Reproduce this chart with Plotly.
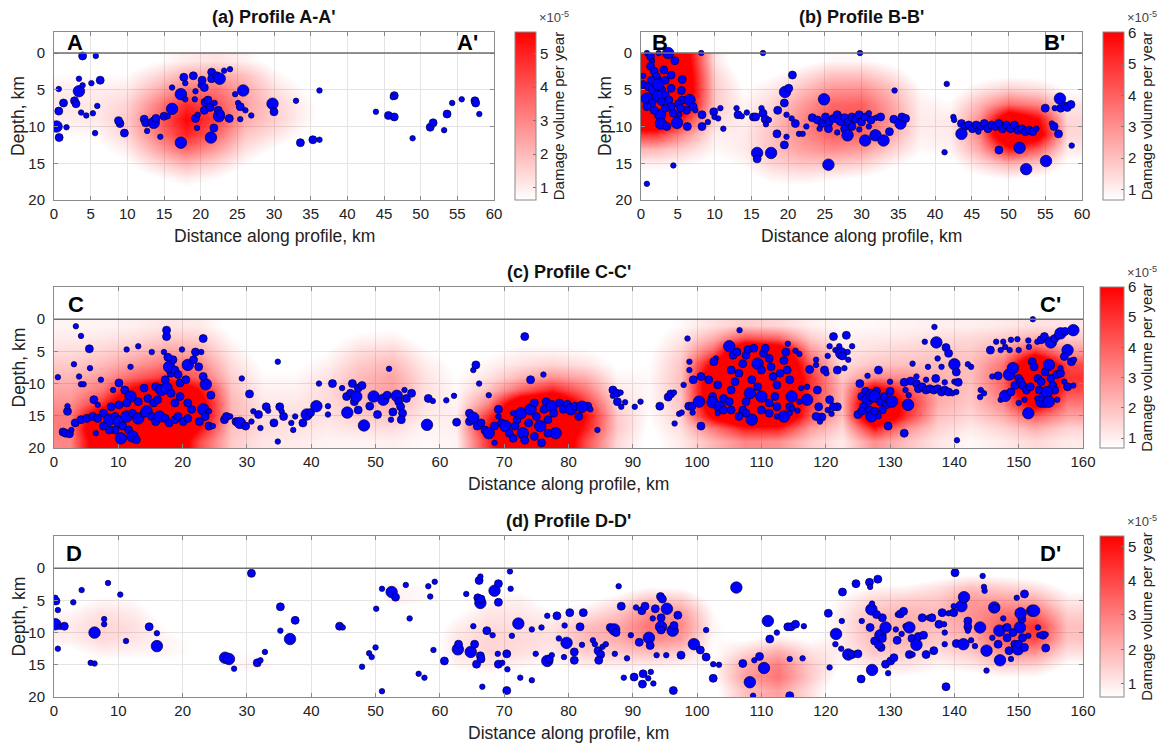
import plotly.graph_objects as go

FONT = "Liberation Sans, Arial, Helvetica, sans-serif"
PAGE_W, PAGE_H = 1172, 744
BODY_MARGIN = 8                      # default <body> margin of the html page
FIG_W, FIG_H = PAGE_W - BODY_MARGIN, PAGE_H - BODY_MARGIN

# ------------------------------------------------------------------ data
# earthquake hypocentres: (distance along profile [km], depth [km], size class 1-3)
A_EVENTS = [
    (3.9, 0.4, 2), (5.7, 0.4, 1), (0.65, 4.9, 1), (3.4, 3.5, 1), (6.3, 3.7, 2), (3.4, 5.2, 3), (5.1, 4.1, 1),
    (3.9, 4.4, 1), (1.3, 6.8, 2), (2.8, 6.5, 2), (3.0, 6.9, 2), (5.9, 7.2, 1), (0.65, 7.9, 2), (3.7, 8.1, 1),
    (4.4, 8.5, 1), (5.3, 8.2, 1), (0.35, 10.0, 3), (1.7, 10.1, 1), (0.7, 11.5, 2), (5.6, 10.9, 1), (9.0, 9.6, 2),
    (8.8, 9.2, 2), (9.6, 10.9, 2), (12.3, 9.0, 2), (12.5, 9.5, 2), (12.7, 10.6, 1), (13.6, 9.5, 3), (13.9, 8.9, 2),
    (14.5, 11.4, 1), (15.0, 8.6, 2), (15.5, 8.6, 1), (16.1, 7.6, 3), (16.1, 4.7, 1), (17.3, 5.6, 3), (17.3, 12.2, 3),
    (17.7, 3.3, 2), (17.9, 4.1, 1), (17.9, 6.3, 1), (19.0, 3.1, 2), (19.2, 6.3, 1), (19.3, 8.9, 2), (19.5, 10.2, 1),
    (19.6, 8.4, 1), (19.3, 5.2, 1), (20.0, 4.4, 1), (20.2, 3.7, 2), (20.5, 4.7, 2), (20.6, 6.7, 2), (20.5, 7.8, 2),
    (21.0, 6.4, 2), (21.3, 7.4, 2), (21.4, 11.5, 3), (21.8, 10.2, 2), (21.5, 2.6, 2), (21.5, 3.5, 2), (22.2, 3.1, 2),
    (22.6, 3.5, 3), (21.9, 6.8, 1), (22.4, 7.8, 2), (22.5, 8.6, 3), (22.7, 8.3, 2), (23.2, 2.4, 1), (24.0, 2.2, 1),
    (24.7, 5.6, 1), (25.1, 6.8, 1), (25.4, 7.3, 2), (25.8, 5.1, 3), (26.1, 7.8, 1), (25.4, 9.0, 1), (23.9, 8.9, 2),
    (26.9, 8.5, 1), (29.8, 6.9, 3), (30.0, 8.0, 2), (33.0, 6.5, 1), (36.2, 5.1, 1), (33.6, 12.2, 2), (35.3, 11.8, 2),
    (36.2, 11.8, 1), (43.9, 8.0, 1), (45.6, 8.5, 2), (46.4, 8.7, 2), (46.4, 5.8, 2), (46.2, 6.0, 1), (48.9, 11.6, 1),
    (51.3, 10.1, 2), (51.7, 9.5, 2), (53.2, 10.5, 1), (53.6, 8.3, 2), (54.3, 6.8, 1), (55.6, 6.3, 1), (57.4, 6.5, 2),
    (57.5, 6.8, 2), (58.0, 8.3, 1),
]

B_EVENTS = [
    (3.7, 0.0, 3), (2.4, 0.0, 1), (0.8, 0.0, 1), (4.6, 1.05, 2), (1.3, 0.5, 2), (1.5, 1.1, 1), (0.3, 3.1, 1),
    (0.3, 4.3, 2), (1.3, 1.8, 2), (1.8, 2.5, 2), (2.1, 3.2, 2), (1.4, 3.7, 2), (2.6, 3.9, 2), (1.0, 4.6, 2),
    (1.8, 5.0, 3), (2.8, 5.0, 2), (2.3, 5.9, 3), (3.3, 5.7, 2), (0.8, 6.2, 3), (1.5, 6.8, 2), (2.8, 6.6, 2),
    (3.8, 6.4, 2), (4.1, 4.8, 2), (3.3, 3.7, 2), (4.1, 3.0, 2), (3.1, 2.3, 2), (2.3, 4.3, 3), (4.1, 7.3, 2),
    (5.5, 5.1, 2), (5.6, 6.4, 2), (4.4, 8.2, 2), (2.6, 8.4, 3), (2.7, 9.6, 3), (3.5, 10.0, 2), (4.9, 9.5, 3),
    (6.3, 10.0, 2), (6.6, 6.4, 3), (5.1, 6.9, 2), (6.2, 7.8, 2), (7.1, 7.3, 2), (7.4, 7.8, 1), (0.8, 7.3, 2),
    (1.8, 7.8, 2), (3.3, 7.5, 2), (5.4, 7.5, 2), (5.6, 3.6, 2), (5.2, 8.4, 1), (8.2, 0.0, 1), (16.6, 0.0, 1),
    (29.8, 0.0, 1), (8.3, 8.4, 2), (8.3, 10.0, 2), (9.1, 9.4, 1), (9.9, 8.0, 2), (10.0, 8.7, 1), (10.5, 8.9, 1),
    (10.8, 7.5, 1), (11.2, 10.3, 1), (13.0, 7.5, 1), (13.2, 8.4, 2), (13.7, 8.6, 1), (14.4, 8.1, 1), (15.3, 8.7, 2),
    (15.6, 8.7, 2), (16.4, 7.5, 1), (16.6, 8.2, 2), (16.9, 9.0, 2), (17.0, 9.7, 1), (17.4, 9.1, 1), (18.6, 7.8, 2),
    (19.5, 6.8, 2), (19.6, 5.3, 3), (20.1, 4.8, 2), (20.6, 3.0, 2), (19.8, 8.4, 1), (20.5, 8.9, 1), (21.0, 9.6, 2),
    (21.5, 11.0, 1), (22.0, 11.0, 1), (22.5, 10.0, 1), (18.5, 11.0, 2), (19.8, 11.4, 1), (19.5, 12.5, 2),
    (15.8, 13.6, 3), (15.8, 14.4, 2), (17.7, 13.6, 3), (25.5, 15.2, 3), (24.9, 6.3, 3), (23.3, 8.8, 2), (24.0, 9.1, 2),
    (24.6, 9.6, 2), (25.1, 8.7, 2), (25.6, 9.4, 2), (26.2, 8.9, 2), (26.7, 8.4, 2), (27.2, 9.1, 3), (27.7, 8.8, 2),
    (28.2, 9.4, 2), (28.7, 8.7, 2), (29.2, 9.0, 2), (29.7, 8.4, 2), (30.0, 9.4, 2), (30.5, 8.7, 2), (31.0, 8.2, 1),
    (31.3, 9.1, 2), (32.0, 8.8, 1), (32.6, 8.7, 2), (25.5, 10.3, 2), (27.7, 10.3, 2), (28.1, 11.2, 3), (30.5, 11.9, 3),
    (31.9, 11.2, 3), (33.0, 11.9, 3), (33.8, 10.7, 2), (34.4, 9.0, 2), (35.3, 9.6, 3), (35.5, 8.7, 2), (36.0, 8.9, 2),
    (34.5, 5.1, 1), (28.7, 10.0, 2), (29.7, 10.4, 1), (26.7, 10.8, 1), (24.3, 10.3, 1), (31.0, 10.0, 1),
    (41.3, 13.5, 1), (41.6, 4.2, 1), (42.5, 8.7, 1), (42.6, 9.1, 1), (43.6, 9.6, 2), (44.1, 10.0, 2), (43.6, 11.0, 3),
    (44.6, 9.8, 2), (45.1, 10.3, 2), (45.6, 9.8, 2), (46.2, 10.0, 2), (46.7, 9.6, 2), (47.2, 10.3, 2), (47.7, 9.8, 2),
    (48.2, 10.0, 2), (48.7, 9.6, 2), (49.2, 10.3, 2), (49.7, 9.8, 2), (50.3, 10.3, 2), (50.8, 9.8, 2), (51.3, 10.5, 2),
    (51.8, 10.3, 2), (52.3, 10.7, 2), (52.8, 10.5, 2), (53.3, 10.7, 2), (53.8, 10.3, 1), (45.9, 10.7, 1),
    (48.7, 13.2, 2), (51.5, 12.9, 3), (52.4, 15.8, 3), (55.1, 14.7, 3), (55.0, 7.5, 2), (55.9, 9.6, 1), (56.2, 10.0, 2),
    (57.0, 6.2, 3), (57.1, 7.5, 2), (57.7, 7.2, 2), (58.0, 7.4, 2), (58.5, 7.0, 2), (56.8, 11.0, 2), (58.6, 12.6, 1),
    (56.3, 7.5, 1), (4.4, 15.3, 1), (0.8, 17.8, 1),
]

C_EVENTS = [
    (0.6, 9.0, 1), (3.4, 1.1, 1), (4.2, 2.6, 1), (5.5, 4.6, 2), (3.1, 7.0, 1), (5.6, 7.6, 1), (3.9, 8.9, 1),
    (4.2, 10.1, 1), (4.6, 10.1, 1), (7.3, 9.4, 1), (2.1, 14.3, 2), (2.1, 13.5, 1), (1.4, 17.5, 2), (1.8, 17.7, 2),
    (2.4, 17.8, 2), (2.7, 17.2, 1), (3.3, 16.1, 2), (4.2, 15.6, 2), (5.1, 15.4, 2), (6.0, 15.1, 2), (6.8, 15.4, 2),
    (7.7, 14.6, 2), (8.6, 15.6, 3), (9.5, 15.1, 2), (10.1, 15.9, 3), (10.7, 16.6, 2), (11.6, 17.2, 2), (12.2, 18.2, 3),
    (12.8, 18.7, 2), (10.4, 18.5, 3), (9.5, 17.2, 2), (8.6, 17.2, 2), (7.7, 16.6, 2), (6.5, 17.7, 1), (11.3, 15.1, 3),
    (12.2, 14.6, 2), (13.1, 15.4, 3), (14.0, 14.6, 2), (14.4, 14.3, 3), (15.2, 15.1, 2), (15.8, 15.9, 2),
    (16.4, 15.1, 3), (17.3, 15.4, 2), (17.9, 16.1, 2), (18.8, 15.6, 2), (19.3, 15.1, 2), (20.1, 15.9, 2),
    (20.8, 15.4, 2), (21.4, 14.0, 2), (22.6, 15.9, 2), (23.2, 14.0, 3), (23.5, 15.1, 2), (24.1, 16.6, 2),
    (24.1, 14.3, 1), (24.4, 11.8, 2), (23.6, 10.1, 3), (23.2, 8.9, 2), (10.1, 9.9, 2), (9.2, 11.0, 1), (11.0, 11.0, 2),
    (11.9, 12.0, 3), (11.3, 13.0, 2), (10.1, 13.3, 2), (8.9, 13.6, 2), (6.8, 13.3, 1), (6.2, 12.5, 2), (14.0, 10.7, 2),
    (14.6, 12.3, 2), (15.5, 13.0, 2), (15.8, 10.5, 2), (16.7, 11.0, 3), (17.5, 10.7, 3), (18.2, 11.5, 2),
    (17.3, 9.4, 2), (18.2, 8.4, 2), (17.9, 7.4, 3), (18.5, 6.3, 2), (17.7, 5.9, 2), (18.8, 7.9, 2), (19.3, 8.6, 2),
    (19.6, 9.9, 2), (20.5, 9.4, 2), (20.8, 7.1, 3), (21.7, 6.3, 2), (22.5, 7.4, 2), (22.0, 5.1, 2), (22.9, 5.1, 1),
    (19.9, 4.7, 1), (17.1, 5.1, 1), (17.5, 2.7, 2), (17.5, 1.7, 2), (15.2, 5.1, 1), (11.3, 4.7, 1), (13.1, 4.2, 1),
    (11.9, 7.4, 1), (23.2, 3.0, 2), (18.8, 13.0, 2), (19.6, 12.0, 2), (20.8, 13.0, 2), (16.1, 12.5, 2),
    (13.1, 12.8, 2), (24.7, 16.6, 1), (26.5, 15.6, 2), (26.8, 15.1, 2), (27.4, 15.1, 1), (28.3, 15.9, 2),
    (28.9, 16.1, 3), (29.8, 16.6, 2), (30.7, 15.9, 1), (31.0, 14.3, 1), (30.4, 11.6, 2), (29.2, 9.2, 1),
    (31.8, 14.8, 2), (32.1, 16.9, 1), (33.0, 13.6, 2), (33.3, 14.2, 1), (35.1, 13.6, 2), (35.4, 14.3, 1),
    (35.7, 15.1, 2), (36.9, 16.1, 1), (37.2, 17.2, 1), (34.2, 16.1, 2), (34.8, 19.0, 1), (34.8, 6.6, 1),
    (37.5, 15.1, 1), (38.7, 16.1, 2), (39.3, 14.8, 3), (39.9, 14.5, 2), (40.8, 13.5, 3), (42.6, 14.8, 1),
    (42.6, 13.5, 1), (43.3, 10.0, 2), (41.2, 10.0, 1), (44.8, 10.7, 1), (45.5, 12.0, 2), (46.1, 11.5, 2),
    (46.4, 10.0, 2), (46.7, 12.8, 2), (47.0, 12.0, 3), (47.3, 10.7, 2), (47.9, 10.3, 2), (45.6, 14.5, 3),
    (47.3, 14.1, 2), (48.2, 16.5, 3), (49.1, 13.5, 2), (49.7, 12.0, 3), (50.3, 14.8, 2), (51.2, 12.5, 3),
    (51.8, 11.8, 2), (52.1, 7.7, 1), (52.7, 14.4, 2), (53.3, 11.9, 3), (53.6, 12.8, 2), (53.9, 13.6, 2),
    (54.2, 14.6, 2), (54.5, 11.0, 1), (54.8, 12.3, 2), (55.6, 11.5, 2), (54.0, 15.6, 2), (52.4, 15.6, 1),
    (58.0, 16.4, 3), (58.2, 12.3, 2), (58.9, 12.7, 1), (61.0, 12.6, 1), (62.2, 11.9, 1), (62.6, 16.0, 2),
    (65.2, 7.9, 1), (65.6, 7.1, 2), (66.1, 10.0, 1), (67.6, 11.8, 1), (73.2, 2.7, 2), (74.1, 9.4, 2), (76.1, 8.6, 1),
    (64.6, 14.6, 2), (64.6, 15.9, 2), (65.2, 15.3, 3), (65.8, 16.6, 2), (66.4, 16.1, 2), (67.0, 17.2, 2),
    (67.6, 17.7, 3), (68.5, 16.6, 2), (69.1, 15.1, 1), (69.6, 16.1, 2), (70.2, 16.6, 3), (70.8, 17.7, 2),
    (71.4, 18.5, 2), (71.7, 16.6, 2), (72.0, 15.6, 2), (72.6, 14.6, 3), (72.9, 17.7, 3), (73.2, 18.8, 2),
    (73.8, 16.1, 2), (74.1, 14.0, 3), (74.7, 13.0, 2), (75.0, 15.1, 2), (75.6, 16.6, 3), (76.2, 14.0, 2),
    (76.5, 12.8, 2), (76.8, 15.6, 2), (77.4, 13.5, 3), (77.7, 14.6, 2), (78.0, 17.7, 3), (78.6, 13.0, 2),
    (79.2, 14.0, 2), (79.8, 13.2, 2), (80.4, 14.0, 3), (81.0, 13.5, 2), (81.6, 15.1, 2), (82.1, 13.5, 1),
    (83.0, 13.5, 2), (74.7, 18.2, 2), (75.8, 19.2, 2), (69.1, 14.0, 2), (68.5, 19.2, 1), (71.4, 14.6, 1),
    (76.8, 17.7, 2), (84.5, 17.2, 1), (82.1, 13.6, 3), (83.4, 14.0, 1), (86.9, 11.0, 2), (87.5, 11.5, 2),
    (88.1, 11.4, 1), (87.6, 12.8, 2), (88.2, 13.6, 1), (88.8, 12.9, 1), (86.9, 11.9, 1), (90.3, 13.6, 1),
    (91.2, 12.8, 1), (94.2, 13.5, 2), (95.5, 12.1, 2), (95.9, 11.6, 2), (96.4, 11.4, 1), (96.5, 16.2, 1),
    (97.2, 14.7, 1), (97.6, 14.5, 1), (98.5, 3.0, 1), (98.8, 6.6, 1), (98.8, 7.9, 1), (98.7, 13.5, 2),
    (99.2, 13.5, 2), (99.3, 14.5, 1), (97.9, 10.2, 1), (99.4, 9.4, 2), (100.6, 8.9, 2), (100.3, 12.8, 3),
    (100.6, 16.6, 2), (105.0, 4.2, 3), (106.6, 1.7, 1), (102.9, 6.1, 1), (102.6, 6.6, 2), (101.8, 9.4, 2),
    (103.2, 10.2, 2), (102.4, 12.0, 2), (102.4, 12.9, 3), (103.5, 13.6, 3), (104.1, 12.3, 2), (105.0, 12.8, 2),
    (105.3, 11.0, 2), (105.9, 9.7, 2), (106.5, 8.4, 2), (107.1, 6.9, 2), (107.6, 5.6, 2), (105.3, 7.9, 2),
    (105.6, 5.6, 2), (106.2, 5.1, 2), (107.9, 4.7, 2), (108.8, 4.5, 2), (109.4, 6.9, 3), (110.0, 7.9, 2),
    (110.3, 5.3, 2), (110.6, 4.5, 2), (111.2, 6.1, 2), (111.5, 7.4, 2), (111.8, 8.9, 2), (112.4, 10.2, 2),
    (112.9, 8.4, 2), (113.8, 5.1, 2), (114.1, 3.8, 1), (113.5, 6.4, 2), (114.0, 7.9, 2), (114.4, 9.4, 2),
    (114.7, 12.0, 3), (114.4, 13.6, 2), (113.5, 15.1, 3), (112.4, 13.6, 2), (111.2, 13.0, 2), (110.0, 12.0, 3),
    (109.4, 10.5, 2), (108.5, 9.4, 2), (108.2, 11.5, 3), (107.6, 12.8, 2), (107.1, 14.1, 2), (108.5, 15.6, 3),
    (107.6, 14.6, 2), (106.5, 15.1, 2), (105.3, 14.1, 2), (104.1, 14.1, 2), (103.2, 14.6, 1), (110.0, 14.1, 2),
    (111.2, 14.6, 2), (112.1, 12.0, 2), (112.4, 15.1, 1), (115.9, 5.4, 1), (115.3, 4.9, 1), (116.2, 10.7, 1),
    (117.1, 10.5, 1), (114.8, 13.9, 1), (115.6, 14.2, 1), (114.4, 14.6, 1), (115.9, 12.8, 1), (117.1, 12.5, 3),
    (117.5, 7.8, 2), (118.5, 6.3, 1), (118.5, 7.1, 1), (118.7, 11.0, 2), (118.9, 13.6, 2), (119.4, 15.2, 2),
    (119.1, 15.9, 1), (118.5, 15.1, 2), (119.8, 7.9, 2), (120.1, 8.4, 1), (120.3, 5.7, 1), (120.6, 4.2, 1),
    (121.2, 2.7, 2), (121.5, 4.8, 1), (122.1, 4.2, 1), (122.4, 5.3, 3), (122.6, 5.7, 2), (123.2, 2.5, 2),
    (123.4, 5.1, 1), (123.5, 6.3, 1), (124.1, 4.2, 1), (121.8, 7.9, 2), (122.9, 7.6, 1), (120.6, 12.5, 2),
    (120.3, 14.1, 1), (121.8, 13.6, 2), (120.9, 14.7, 1), (121.2, 13.6, 2), (125.3, 10.0, 2), (126.2, 11.2, 2),
    (125.6, 12.0, 2), (126.5, 12.5, 3), (127.1, 11.8, 3), (127.9, 11.2, 2), (127.6, 12.0, 3), (128.2, 7.9, 2),
    (128.5, 12.8, 2), (129.1, 12.0, 2), (129.4, 13.3, 2), (130.0, 9.7, 1), (130.0, 11.2, 2), (130.3, 12.8, 3),
    (125.9, 13.6, 2), (126.8, 14.1, 2), (127.1, 15.1, 3), (127.6, 14.3, 2), (128.8, 14.1, 2), (125.0, 14.8, 2),
    (125.6, 14.3, 2), (128.2, 15.1, 1), (126.5, 8.8, 1), (129.7, 16.6, 2), (132.2, 17.7, 2), (132.8, 13.3, 3),
    (132.2, 9.8, 2), (132.4, 11.0, 1), (133.2, 9.6, 2), (133.5, 6.9, 1), (132.9, 11.8, 1), (134.1, 10.0, 2),
    (134.4, 10.8, 2), (135.0, 10.5, 2), (135.6, 11.0, 2), (136.2, 10.8, 2), (136.8, 11.0, 2), (137.4, 10.8, 2),
    (138.0, 11.3, 2), (138.5, 11.0, 2), (139.1, 11.3, 2), (139.7, 11.5, 1), (140.3, 11.3, 1), (134.1, 8.9, 1),
    (135.6, 9.4, 1), (137.1, 9.2, 2), (138.5, 9.8, 1), (140.0, 9.7, 1), (136.9, 1.2, 1), (135.4, 3.5, 1),
    (137.2, 3.6, 3), (138.7, 4.4, 2), (139.1, 5.3, 2), (137.4, 6.1, 1), (135.9, 7.4, 1), (138.0, 7.4, 1),
    (140.0, 7.0, 3), (140.3, 8.2, 2), (142.1, 7.0, 1), (142.6, 7.4, 1), (140.4, 18.8, 1), (140.6, 9.8, 2),
    (144.1, 11.0, 1), (144.6, 11.5, 1), (144.0, 12.1, 1), (145.6, 4.8, 2), (146.5, 3.5, 1), (147.2, 4.8, 1),
    (147.6, 3.5, 1), (147.9, 4.3, 1), (148.6, 4.8, 1), (148.8, 3.2, 1), (149.8, 3.1, 1), (150.0, 4.8, 1),
    (151.5, 3.3, 1), (151.6, 4.3, 1), (152.2, 0.0, 1), (152.9, 3.5, 1), (153.5, 3.2, 2), (154.0, 2.7, 2),
    (155.0, 3.6, 3), (155.6, 3.0, 2), (156.2, 2.5, 2), (156.5, 2.2, 3), (157.2, 1.9, 2), (158.5, 1.7, 3),
    (157.6, 4.8, 3), (157.1, 5.8, 2), (158.2, 6.6, 2), (158.6, 6.3, 1), (145.9, 8.9, 1), (146.8, 8.8, 2),
    (147.2, 12.5, 1), (147.9, 11.9, 3), (148.8, 11.3, 2), (149.4, 10.3, 2), (148.5, 8.6, 3), (149.1, 7.6, 3),
    (150.0, 9.2, 2), (150.3, 9.7, 2), (150.6, 10.3, 2), (151.2, 11.0, 2), (151.8, 10.5, 2), (152.1, 6.6, 2),
    (152.4, 7.4, 2), (153.0, 9.2, 2), (153.5, 9.7, 2), (154.1, 8.2, 2), (154.7, 7.1, 3), (155.0, 9.2, 2),
    (155.3, 10.3, 2), (155.6, 11.0, 2), (155.9, 8.6, 2), (156.5, 8.4, 2), (157.1, 9.7, 1), (157.6, 10.5, 2),
    (158.5, 10.3, 1), (153.2, 11.0, 2), (153.8, 11.9, 2), (154.4, 11.3, 3), (153.5, 12.8, 3), (154.1, 13.1, 2),
    (154.7, 12.8, 3), (151.5, 14.6, 3), (150.9, 12.5, 1), (150.0, 13.0, 1), (152.9, 12.3, 1), (156.0, 12.5, 1),
    (156.5, 7.6, 1),
]

D_EVENTS = [
    (0.2, 4.6, 1), (0.3, 5.1, 2), (0.6, 6.5, 1), (0.2, 8.7, 3), (0.9, 9.1, 1), (1.6, 9.0, 2), (0.6, 12.5, 1),
    (3.0, 5.3, 1), (4.3, 3.4, 1), (6.3, 10.0, 3), (5.7, 14.7, 1), (6.3, 14.8, 1), (7.8, 7.9, 1), (7.8, 8.7, 1),
    (8.4, 2.3, 1), (10.3, 4.1, 1), (11.2, 11.3, 1), (14.8, 9.1, 2), (16.0, 10.1, 1), (16.0, 12.1, 3),
    (26.6, 13.9, 3), (27.2, 14.1, 3), (28.0, 15.6, 1), (30.7, 0.8, 2), (31.6, 14.7, 2), (32.1, 14.3, 1),
    (32.8, 13.0, 1), (35.2, 6.0, 2), (35.2, 9.7, 1), (36.7, 11.0, 3), (37.5, 8.1, 2), (44.4, 9.0, 2), (44.9, 9.2, 1),
    (47.9, 15.3, 1), (49.0, 13.2, 1), (49.4, 13.8, 1), (50.0, 12.3, 1), (50.1, 6.3, 1), (51.0, 19.1, 1),
    (51.0, 3.2, 1), (52.5, 3.7, 3), (53.1, 4.5, 2), (54.7, 2.6, 1), (55.3, 7.8, 1), (56.7, 16.4, 1), (57.6, 17.0, 1),
    (58.2, 2.8, 1), (58.5, 4.4, 1), (59.2, 2.1, 1), (59.0, 12.7, 1), (60.7, 14.4, 2), (62.8, 12.6, 3),
    (62.9, 11.8, 2), (64.1, 4.0, 1), (64.8, 13.0, 3), (65.4, 11.8, 2), (65.7, 14.9, 2), (65.2, 9.0, 1),
    (65.9, 4.6, 2), (66.1, 1.9, 2), (66.3, 1.3, 1), (66.3, 5.4, 3), (66.4, 4.8, 2), (66.3, 13.6, 2), (66.4, 14.1, 2),
    (66.6, 18.4, 1), (67.3, 9.7, 2), (68.2, 10.4, 1), (68.5, 3.5, 3), (69.1, 5.3, 2), (69.1, 2.4, 2), (69.0, 13.3, 1),
    (69.1, 14.9, 2), (69.7, 14.7, 1), (70.4, 13.3, 2), (70.5, 15.7, 1), (70.4, 19.0, 2), (70.9, 0.5, 1),
    (71.0, 3.2, 1), (71.2, 10.5, 1), (72.2, 8.6, 3), (72.5, 17.0, 1), (74.3, 9.5, 1), (74.3, 17.4, 1),
    (74.9, 13.3, 1), (75.8, 9.2, 1), (76.7, 7.4, 1), (76.7, 14.4, 3), (77.0, 14.1, 2), (77.4, 13.5, 1),
    (78.2, 7.4, 2), (78.5, 10.9, 1), (79.3, 13.8, 1), (79.4, 8.9, 1), (79.7, 11.6, 3), (80.2, 6.9, 2),
    (80.9, 13.0, 2), (80.9, 14.3, 2), (81.8, 9.1, 2), (82.1, 11.9, 1), (82.3, 6.9, 2), (83.8, 11.2, 1),
    (84.1, 11.8, 1), (84.6, 12.8, 2), (85.0, 13.4, 2), (85.3, 12.2, 1), (85.8, 11.8, 1), (84.7, 14.3, 2),
    (86.5, 9.2, 2), (87.1, 9.5, 3), (87.4, 10.0, 2), (87.2, 13.3, 1), (87.8, 2.8, 1), (88.2, 5.9, 2),
    (88.6, 17.0, 1), (89.1, 14.0, 1), (89.7, 10.4, 1), (90.2, 16.9, 2), (90.5, 6.1, 1), (91.0, 11.5, 2),
    (91.4, 6.6, 2), (91.6, 16.4, 2), (91.5, 18.0, 2), (91.9, 5.9, 2), (92.4, 17.1, 1), (92.5, 10.8, 3),
    (92.7, 12.0, 2), (92.8, 16.1, 1), (93.1, 7.8, 1), (93.2, 17.9, 1), (93.5, 6.3, 2), (93.7, 13.5, 1),
    (94.3, 4.4, 2), (94.6, 4.8, 2), (94.4, 7.7, 2), (94.4, 9.1, 3), (94.4, 9.6, 2), (95.2, 13.5, 1), (95.3, 6.3, 3),
    (96.2, 9.7, 3), (96.4, 8.9, 2), (97.0, 7.3, 2), (97.5, 13.5, 2), (96.3, 19.0, 2), (99.5, 11.8, 3),
    (100.5, 12.7, 2), (101.4, 9.6, 1), (101.4, 13.8, 2), (102.5, 14.9, 1), (102.5, 17.1, 2), (103.4, 15.0, 1),
    (106.1, 3.0, 3), (107.1, 14.8, 2), (108.2, 17.7, 3), (108.7, 19.8, 1), (108.9, 14.3, 1), (109.7, 13.7, 2),
    (110.4, 15.5, 3), (111.0, 8.2, 3), (111.3, 11.0, 2), (112.4, 10.0, 1), (114.1, 9.1, 2), (114.6, 9.1, 2),
    (115.3, 8.7, 2), (116.6, 9.0, 1), (114.4, 14.1, 1), (116.4, 14.0, 1), (114.4, 19.8, 2), (120.4, 7.0, 2),
    (120.6, 15.4, 1), (121.6, 10.2, 3), (121.5, 11.8, 1), (122.4, 12.5, 1), (122.6, 3.7, 2), (122.5, 8.2, 1),
    (123.5, 13.4, 3), (124.1, 13.4, 2), (125.0, 13.3, 2), (124.7, 2.4, 2), (125.6, 8.2, 1), (125.5, 17.2, 2),
    (126.8, 2.2, 2), (126.9, 2.9, 1), (127.1, 6.4, 3), (126.9, 9.2, 2), (127.2, 5.5, 1), (127.2, 15.8, 3),
    (127.6, 11.3, 2), (127.9, 7.2, 2), (128.1, 1.7, 2), (128.5, 10.4, 3), (128.6, 12.3, 2), (128.8, 7.7, 2),
    (129.3, 9.2, 3), (129.3, 14.9, 2), (128.8, 10.9, 2), (128.2, 11.9, 2), (129.7, 16.3, 1), (130.1, 14.4, 2),
    (130.6, 13.9, 2), (130.9, 9.5, 1), (131.1, 11.2, 2), (131.2, 7.2, 1), (131.6, 7.1, 2), (132.1, 6.7, 2),
    (131.8, 10.2, 1), (132.4, 9.0, 1), (133.0, 9.2, 3), (133.0, 13.4, 2), (133.4, 10.9, 2), (133.5, 13.4, 1),
    (134.1, 11.9, 3), (134.4, 10.6, 2), (135.0, 7.7, 2), (135.2, 10.4, 2), (135.6, 13.4, 2), (136.0, 7.7, 1),
    (136.5, 7.7, 2), (136.8, 12.8, 2), (137.6, 8.7, 2), (138.1, 6.9, 2), (138.4, 8.7, 1), (138.5, 10.0, 1),
    (138.5, 11.8, 1), (138.7, 18.4, 2), (139.1, 7.0, 1), (139.9, 5.9, 1), (139.9, 6.9, 2), (140.1, 0.7, 2),
    (140.3, 11.7, 2), (141.1, 5.9, 3), (141.5, 4.5, 3), (141.4, 11.8, 3), (142.1, 8.2, 2), (142.1, 9.1, 2),
    (142.1, 9.7, 1), (142.6, 11.2, 1), (143.2, 12.1, 1), (144.0, 9.2, 3), (144.4, 1.2, 1), (144.6, 2.9, 1),
    (144.7, 3.5, 1), (145.0, 12.8, 3), (145.0, 15.9, 1), (145.9, 10.8, 1), (146.2, 6.1, 3), (146.4, 6.2, 2),
    (146.8, 11.8, 2), (147.0, 9.7, 3), (147.1, 14.3, 3), (147.6, 7.8, 1), (147.9, 9.2, 1), (148.2, 9.2, 2),
    (148.2, 10.8, 2), (148.5, 12.8, 2), (148.8, 14.1, 1), (149.1, 10.0, 2), (149.4, 11.8, 2), (149.7, 4.6, 1),
    (149.7, 12.3, 2), (149.9, 12.6, 3), (150.0, 11.8, 2), (150.2, 9.2, 3), (150.5, 7.9, 2), (150.6, 10.8, 2),
    (150.9, 4.0, 2), (150.9, 12.3, 2), (151.5, 10.5, 1), (152.1, 6.6, 3), (152.4, 6.6, 3), (153.0, 9.2, 1),
    (153.2, 10.4, 1), (153.8, 10.4, 2), (154.2, 10.3, 1), (154.2, 12.4, 2), (150.3, 7.0, 3),
]

# damage volume per year (units of 1e-5), sampled on a coarse grid; rows follow GRID_Z
GRID_Z = [1, 3, 5, 7, 9, 11, 13, 15, 17, 19]
AB_GRID_X = [2, 6, 10, 14, 18, 22, 26, 30, 34, 38, 42, 46, 50, 54, 58]
CD_GRID_X = [2.5, 7.5, 12.5, 17.5, 22.5, 27.5, 32.5, 37.5, 42.5, 47.5, 52.5, 57.5, 62.5, 67.5, 72.5, 77.5,
             82.5, 87.5, 92.5, 97.5, 102.5, 107.5, 112.5, 117.5, 122.5, 127.5, 132.5, 137.5, 142.5, 147.5,
             152.5, 157.5]

A_DAMAGE = [
    [0.3, 0.2, 0.3, 0.6, 1.0, 1.2, 0.9, 0.4, 0.1, 0.0, 0, 0, 0, 0, 0],
    [0.7, 0.7, 0.7, 1.4, 2.2, 2.5, 1.9, 0.9, 0.4, 0.0, 0, 0, 0, 0, 0],
    [1.0, 1.0, 1.1, 2.2, 3.4, 3.4, 2.4, 1.3, 0.7, 0.2, 0, 0, 0, 0, 0],
    [1.1, 1.1, 1.5, 3.1, 4.8, 4.1, 2.5, 1.6, 0.9, 0.3, 0, 0, 0, 0, 0],
    [1.0, 1.1, 1.7, 3.6, 5.6, 4.4, 2.3, 1.6, 0.9, 0.3, 0, 0, 0, 0, 0],
    [0.7, 0.8, 1.5, 3.2, 5.0, 3.7, 1.8, 1.2, 0.6, 0.1, 0, 0, 0, 0, 0],
    [0.3, 0.5, 1.0, 2.4, 3.6, 2.6, 1.2, 0.6, 0.2, 0.0, 0, 0, 0, 0, 0],
    [0.1, 0.2, 0.6, 1.4, 2.1, 1.5, 0.7, 0.2, 0.0, 0.0, 0, 0, 0, 0, 0],
    [0.0, 0.0, 0.2, 0.6, 1.0, 0.7, 0.2, 0.0, 0.0, 0.0, 0, 0, 0, 0, 0],
    [0.0, 0.0, 0.0, 0.2, 0.4, 0.2, 0.0, 0.0, 0.0, 0.0, 0, 0, 0, 0, 0],
]

B_DAMAGE = [
    [9.0, 7.0, 1.2, 0.0, 0.0, 0.4, 0.8, 0.8, 0.5, 0.0, 0.0, 0.0, 0.0, 0.0, 0.0],
    [9.0, 7.5, 1.6, 0.4, 0.7, 1.3, 2.0, 2.0, 1.3, 0.4, 0.0, 0.4, 0.6, 0.5, 0.2],
    [9.0, 7.5, 1.8, 0.7, 1.2, 2.1, 3.0, 3.1, 2.1, 0.8, 0.4, 1.2, 1.8, 1.5, 0.7],
    [9.0, 7.0, 1.8, 0.9, 1.6, 2.8, 3.9, 4.0, 2.6, 1.0, 0.8, 2.2, 3.8, 3.2, 1.2],
    [9.0, 5.0, 1.4, 1.0, 1.9, 3.2, 4.3, 4.3, 2.8, 1.1, 1.1, 3.0, 8.0, 6.0, 1.5],
    [5.0, 3.0, 1.0, 1.1, 2.0, 3.1, 4.0, 3.9, 2.5, 1.0, 1.1, 3.2, 9.0, 7.0, 1.5],
    [2.2, 1.6, 0.8, 1.1, 2.0, 2.7, 3.1, 2.8, 1.7, 0.8, 0.9, 2.5, 5.5, 4.0, 1.1],
    [1.0, 0.8, 0.5, 0.8, 1.6, 1.9, 1.9, 1.6, 0.9, 0.4, 0.5, 1.4, 2.3, 1.8, 0.6],
    [0.4, 0.3, 0.2, 0.4, 0.9, 1.0, 0.8, 0.6, 0.3, 0.0, 0.2, 0.5, 0.8, 0.6, 0.2],
    [0.0, 0.0, 0.0, 0.0, 0.3, 0.3, 0.2, 0.0, 0.0, 0.0, 0.0, 0.0, 0.2, 0.1, 0.0],
]

C_DAMAGE = [
    [0.9, 0.9, 1.0, 1.2, 1.1, 0.5, 0.2, 0.2, 0.3, 0.5, 0.6, 0.3, 0.2, 0.3, 0.4, 0.4,
     0.3, 0.2, 0.4, 0.8, 1.3, 1.7, 1.5, 1.0, 0.8, 0.8, 0.9, 1.0, 1.0, 1.1, 1.3, 1.2],
    [1.1, 1.2, 1.4, 1.8, 1.7, 0.8, 0.3, 0.3, 0.5, 0.9, 1.0, 0.5, 0.3, 0.4, 0.6, 0.6,
     0.5, 0.3, 0.5, 1.2, 2.4, 4.5, 4.0, 1.8, 1.0, 1.1, 1.2, 1.4, 1.5, 1.8, 2.4, 1.8],
    [1.4, 1.6, 2.0, 2.6, 2.4, 1.1, 0.4, 0.4, 0.7, 1.4, 1.6, 0.8, 0.4, 0.6, 0.9, 0.9,
     0.8, 0.4, 0.6, 1.6, 4.0, 9.0, 8.0, 3.0, 1.2, 1.4, 1.6, 1.8, 1.8, 2.6, 5.0, 2.8],
    [1.8, 2.1, 2.8, 3.6, 3.2, 1.4, 0.6, 0.6, 1.0, 1.8, 2.2, 1.1, 0.6, 0.9, 1.3, 1.6,
     1.3, 0.6, 0.7, 1.9, 6.5, 9.0, 9.0, 4.2, 1.4, 1.9, 2.0, 2.1, 2.0, 3.6, 9.0, 4.5],
    [2.2, 2.8, 4.0, 5.0, 4.0, 1.7, 0.8, 0.8, 1.3, 2.1, 2.6, 1.3, 0.7, 1.3, 2.2, 3.0,
     2.4, 0.9, 0.8, 2.0, 8.0, 9.0, 9.0, 5.0, 1.8, 3.2, 3.0, 2.3, 2.0, 4.0, 9.0, 5.0],
    [2.6, 3.6, 6.5, 9.0, 6.0, 2.0, 1.0, 1.0, 1.4, 2.2, 2.7, 1.4, 0.8, 2.0, 4.0, 5.5,
     3.6, 1.2, 0.8, 2.0, 8.0, 9.0, 9.0, 5.0, 2.2, 7.0, 4.5, 2.5, 1.9, 3.8, 9.0, 4.5],
    [3.0, 5.0, 9.0, 9.0, 7.0, 2.2, 1.2, 1.2, 1.4, 2.0, 2.4, 1.3, 0.9, 3.2, 8.0, 9.0,
     5.0, 1.5, 0.8, 1.9, 8.0, 9.0, 9.0, 4.8, 2.2, 9.0, 5.5, 2.4, 1.8, 3.2, 7.0, 3.5],
    [3.4, 8.0, 9.0, 9.0, 7.0, 2.2, 1.4, 1.4, 1.3, 1.7, 1.9, 1.1, 1.0, 5.0, 9.0, 9.0,
     6.0, 1.8, 0.7, 1.7, 6.5, 9.0, 9.0, 4.2, 2.0, 9.0, 5.0, 2.0, 1.5, 2.4, 4.0, 2.6],
    [3.4, 9.0, 9.0, 9.0, 6.0, 2.0, 1.4, 1.3, 1.1, 1.3, 1.4, 0.9, 1.0, 6.0, 9.0, 9.0,
     5.5, 1.8, 0.6, 1.4, 3.5, 5.5, 5.5, 2.8, 1.5, 5.5, 3.0, 1.6, 1.1, 1.6, 2.4, 1.6],
    [3.2, 8.0, 9.0, 9.0, 4.5, 1.8, 1.2, 1.1, 0.9, 0.9, 1.0, 0.8, 0.9, 5.0, 9.0, 9.0,
     4.5, 1.5, 0.5, 1.1, 2.2, 3.2, 3.0, 1.8, 1.1, 3.0, 2.0, 1.2, 0.8, 1.1, 1.5, 1.1],
]

D_DAMAGE = [
    [0.0, 0.0, 0.0, 0.0, 0.0, 0.0, 0.0, 0.0, 0.0, 0.0, 0.4, 0.3, 0.0, 0.0, 0.0, 0.0,
     0.0, 0.0, 0.0, 0.0, 0.0, 0.0, 0.0, 0.0, 0.0, 0.0, 0.0, 0.3, 0.6, 0.5, 0.3, 0.0],
    [0.0, 0.2, 0.2, 0.0, 0.0, 0.0, 0.0, 0.0, 0.0, 0.0, 0.9, 0.7, 0.2, 0.4, 0.5, 0.0,
     0.0, 0.3, 0.7, 0.6, 0.0, 0.0, 0.0, 0.0, 0.4, 0.8, 0.8, 1.2, 1.8, 1.5, 1.2, 0.5],
    [0.4, 0.8, 0.7, 0.2, 0.0, 0.0, 0.0, 0.0, 0.0, 0.0, 0.9, 0.7, 0.3, 0.8, 0.9, 0.4,
     0.5, 1.0, 1.8, 1.6, 0.4, 0.0, 0.0, 0.0, 0.8, 1.4, 1.6, 1.7, 2.5, 2.4, 2.2, 1.0],
    [0.8, 1.2, 1.0, 0.4, 0.0, 0.0, 0.0, 0.0, 0.0, 0.0, 0.4, 0.4, 0.6, 1.1, 1.1, 0.8,
     1.1, 1.7, 2.8, 2.5, 0.7, 0.0, 0.0, 0.2, 1.0, 1.8, 2.0, 1.9, 2.6, 3.2, 3.4, 1.5],
    [1.0, 1.4, 1.2, 0.6, 0.3, 0.0, 0.0, 0.0, 0.0, 0.0, 0.0, 0.2, 0.9, 1.3, 1.2, 1.1,
     1.8, 2.2, 3.2, 2.8, 0.8, 0.2, 0.2, 0.3, 1.0, 2.0, 2.1, 1.8, 2.3, 3.8, 4.5, 1.8],
    [0.9, 1.3, 1.1, 0.8, 0.5, 0.3, 0.2, 0.0, 0.0, 0.0, 0.0, 0.2, 1.1, 1.4, 1.3, 1.2,
     1.9, 2.1, 2.8, 2.4, 0.7, 0.6, 1.0, 0.6, 1.0, 1.9, 2.0, 1.6, 2.0, 3.6, 4.0, 1.7],
    [0.5, 0.9, 0.8, 0.8, 0.6, 0.7, 0.6, 0.2, 0.0, 0.0, 0.0, 0.1, 1.1, 1.4, 1.2, 1.0,
     1.5, 1.6, 1.8, 1.5, 0.6, 1.4, 2.2, 1.2, 0.9, 1.6, 1.6, 1.2, 1.6, 2.6, 2.6, 1.2],
    [0.2, 0.4, 0.4, 0.5, 0.4, 0.8, 0.8, 0.3, 0.0, 0.0, 0.0, 0.0, 0.8, 1.0, 0.8, 0.6,
     0.9, 0.9, 0.9, 0.8, 0.7, 2.2, 3.0, 1.6, 0.6, 1.1, 1.1, 0.8, 1.0, 1.5, 1.4, 0.6],
    [0.0, 0.0, 0.0, 0.2, 0.2, 0.5, 0.5, 0.2, 0.0, 0.0, 0.0, 0.0, 0.3, 0.5, 0.3, 0.2,
     0.3, 0.3, 0.3, 0.3, 0.6, 2.4, 3.2, 1.6, 0.3, 0.6, 0.6, 0.4, 0.4, 0.6, 0.6, 0.2],
    [0.0, 0.0, 0.0, 0.0, 0.0, 0.2, 0.2, 0.0, 0.0, 0.0, 0.0, 0.0, 0.0, 0.2, 0.0, 0.0,
     0.0, 0.0, 0.0, 0.0, 0.4, 1.8, 2.4, 1.2, 0.0, 0.2, 0.2, 0.0, 0.0, 0.2, 0.2, 0.0],
]

# colour-bar limits (units of 1e-5) and tick values
A_CBAR = (0.63, 5.65)
B_CBAR = (0.66, 6.03)
C_CBAR = (0.67, 6.0)
D_CBAR = (0.61, 5.3)
A_CB_TICKS = [1, 2, 3, 4, 5]
B_CB_TICKS = [1, 2, 3, 4, 5, 6]
C_CB_TICKS = [1, 2, 3, 4, 5, 6]
D_CB_TICKS = [1, 2, 3, 4, 5]

TITLES = ["(a) Profile A-A'", "(b) Profile B-B'", "(c) Profile C-C'", "(d) Profile D-D'"]
END_LABELS = [("A", "A'"), ("B", "B'"), ("C", "C'"), ("D", "D'")]
X_TICKS_AB = [0, 5, 10, 15, 20, 25, 30, 35, 40, 45, 50, 55, 60]
X_TICKS_CD = [0, 10, 20, 30, 40, 50, 60, 70, 80, 90, 100, 110, 120, 130, 140, 150, 160]
Y_TICKS = [0, 5, 10, 15, 20]
X_TITLE = "Distance along profile, km"
Y_TITLE = "Depth, km"
CB_TITLE = "Damage volume per year"


# ------------------------------------------------------------------ layout geometry (page pixels)
def fx(p):
    return (p - BODY_MARGIN) / FIG_W


def fy(p):
    return 1 - (p - BODY_MARGIN) / FIG_H


SIZE_PX = {1: 5.5, 2: 8.0, 3: 11.5}
# pure red with increasing opacity: over the white background this is a white->red ramp
COLORSCALE = [[0.0, "rgba(255,0,0,0)"], [1.0, "rgba(255,0,0,1)"]]

panels = [
    dict(events=A_EVENTS, gx=AB_GRID_X, dmg=A_DAMAGE, cb=A_CBAR, cbt=A_CB_TICKS, xt=X_TICKS_AB,
         xr=[0, 60], yr=[20, -2.86], box=(54, 494, 32, 200), cbx=(515, 21), lab=(2.9, 56.4, -1.4)),
    dict(events=B_EVENTS, gx=AB_GRID_X, dmg=B_DAMAGE, cb=B_CBAR, cbt=B_CB_TICKS, xt=X_TICKS_AB,
         xr=[0, 60], yr=[20, -2.86], box=(641, 1082, 32, 200), cbx=(1103, 21), lab=(2.6, 56.2, -1.4)),
    dict(events=C_EVENTS, gx=CD_GRID_X, dmg=C_DAMAGE, cb=C_CBAR, cbt=C_CB_TICKS, xt=X_TICKS_CD,
         xr=[0, 160], yr=[20, -5.0], box=(54, 1083, 287, 448), cbx=(1100, 24), lab=(3.4, 155.0, -2.3)),
    dict(events=D_EVENTS, gx=CD_GRID_X, dmg=D_DAMAGE, cb=D_CBAR, cbt=D_CB_TICKS, xt=X_TICKS_CD,
         xr=[0, 160], yr=[20, -5.0], box=(54, 1083, 536, 697), cbx=(1100, 24), lab=(3.1, 155.0, -2.3)),
]

fig = go.Figure()
layout_axes = {}
annotations = []
shapes = []

for i, p in enumerate(panels):
    n = "" if i == 0 else str(i + 1)
    xa, ya = "x" + n, "y" + n
    x0, x1, y0, y1 = p["box"]
    cbx0, cbw = p["cbx"]

    fig.add_trace(go.Heatmap(
        x=p["gx"], y=GRID_Z, z=p["dmg"], zmin=p["cb"][0], zmax=p["cb"][1],
        zsmooth="best", colorscale=COLORSCALE, xaxis=xa, yaxis=ya, hoverinfo="skip",
        colorbar=dict(
            x=fx(cbx0), xanchor="left", y=fy((y0 + y1) / 2), yanchor="middle",
            len=(y1 - y0) / FIG_H, lenmode="fraction", thickness=cbw, thicknessmode="pixels",
            xpad=0, ypad=0, outlinewidth=1, outlinecolor="#8a8a8a",
            tickvals=p["cbt"], ticks="inside", ticklen=3, tickcolor="#777",
            tickfont=dict(family=FONT, size=15, color="#222"),
            title=dict(text=CB_TITLE, side="right", font=dict(family=FONT, size=15, color="#222")),
        ),
    ))

    ev = p["events"]
    fig.add_trace(go.Scatter(
        x=[e[0] for e in ev], y=[e[1] for e in ev], mode="markers", xaxis=xa, yaxis=ya,
        marker=dict(color="#0000ff", opacity=1, size=[SIZE_PX[e[2]] for e in ev],
                    line=dict(color="#00003a", width=0.7)),
        showlegend=False, hoverinfo="skip",
    ))

    common = dict(showline=True, mirror="ticks", linecolor="#8a8a8a", linewidth=1,
                  ticks="inside", ticklen=4, tickcolor="#8a8a8a",
                  showgrid=True, gridcolor="#e4e4e4", gridwidth=1, zeroline=False,
                  tickfont=dict(family=FONT, size=15, color="#222"))
    layout_axes["xaxis" + n] = dict(domain=[fx(x0), fx(x1)], range=p["xr"], tickvals=p["xt"],
                                    anchor=ya, **common)
    layout_axes["yaxis" + n] = dict(domain=[fy(y1), fy(y0)], range=p["yr"], tickvals=Y_TICKS,
                                    anchor=xa, ticklabelstandoff=5, **common)

    # depth-zero line
    shapes.append(dict(type="line", xref=xa, yref=ya, x0=p["xr"][0], x1=p["xr"][1], y0=0, y1=0,
                       line=dict(color="#6e6e6e", width=1.4), layer="above"))

    xc = (x0 + x1) / 2
    annotations += [
        dict(text="<b>" + TITLES[i] + "</b>", x=fx(xc), y=fy(y0 - 15), xref="paper", yref="paper",
             showarrow=False, xanchor="center", yanchor="middle",
             font=dict(family=FONT, size=18, color="#111")),
        dict(text=X_TITLE, x=fx(xc), y=fy(y1 + 36), xref="paper", yref="paper", showarrow=False,
             xanchor="center", yanchor="middle", font=dict(family=FONT, size=17.5, color="#222")),
        dict(text=Y_TITLE, x=fx(x0 - 36), y=fy((y0 + y1) / 2), xref="paper", yref="paper",
             showarrow=False, textangle=-90, xanchor="center", yanchor="middle",
             font=dict(family=FONT, size=17.5, color="#222")),
        dict(text="<b>" + END_LABELS[i][0] + "</b>", x=p["lab"][0], y=p["lab"][2], xref=xa, yref=ya,
             showarrow=False, xanchor="center", yanchor="middle",
             font=dict(family=FONT, size=22, color="#000")),
        dict(text="<b>" + END_LABELS[i][1] + "</b>", x=p["lab"][1], y=p["lab"][2], xref=xa, yref=ya,
             showarrow=False, xanchor="center", yanchor="middle",
             font=dict(family=FONT, size=22, color="#000")),
        dict(text="×10<sup>-5</sup>", x=fx(cbx0 + cbw + 1), y=fy(y0 - 15), xref="paper", yref="paper",
             showarrow=False, xanchor="left", yanchor="middle",
             font=dict(family=FONT, size=13, color="#444")),
    ]

fig.update_layout(
    width=FIG_W, height=FIG_H, margin=dict(l=0, r=0, t=0, b=0, autoexpand=False),
    paper_bgcolor="white", plot_bgcolor="white", showlegend=False,
    annotations=annotations, shapes=shapes,
    font=dict(family=FONT, size=15, color="#222"),
    **layout_axes,
)

fig.write_html("out.html")
